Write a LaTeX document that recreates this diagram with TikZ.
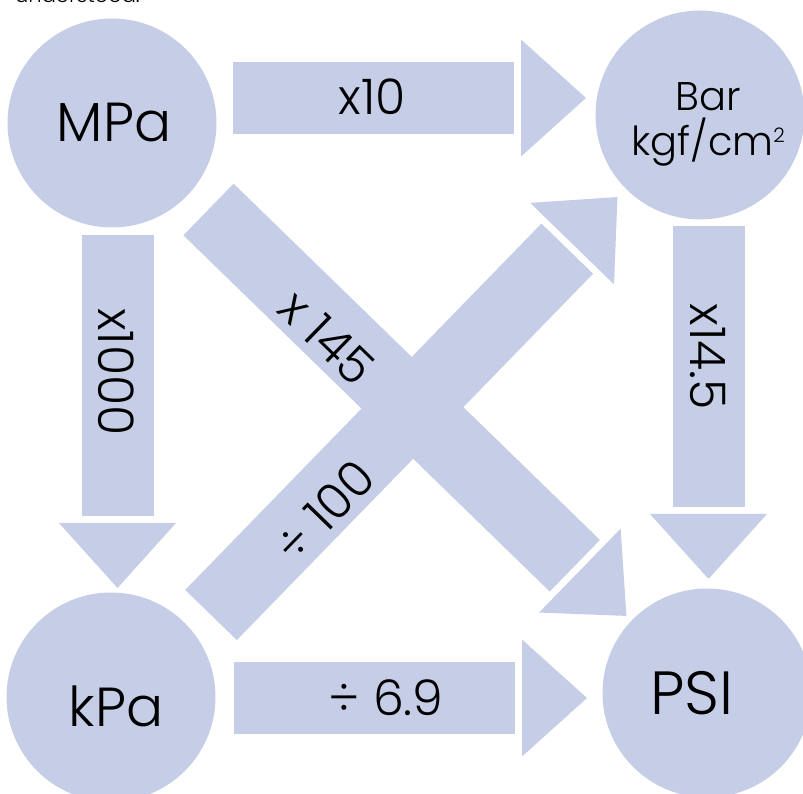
\documentclass[tikz,border=0pt]{standalone}
\usepackage{fontspec}
\setmainfont{Poppins Light}
\usetikzlibrary{calc}
\definecolor{paleblue}{RGB}{198,206,231}

\begin{document}
\begin{tikzpicture}[x=1pt,y=1pt,
    unit/.style={circle,fill=paleblue,minimum size=209pt,inner sep=0pt},
    big/.style={font=\fontsize{55}{60}\selectfont},
    factor/.style={font=\fontsize{49}{54}\selectfont,inner sep=0pt}]
  \useasboundingbox (0,0) rectangle (803,794);
  % block arrow: start, angle, shaft length, name, label position, label angle, label
  \def\blockarrow#1#2#3#4#5#6#7{%
    \begin{scope}[shift={(#1)},rotate=#2]
      \fill[paleblue] (0,-36) rectangle (#3,36);
      \fill[paleblue] (#3+7,-58.5) -- (#3+72,0) -- (#3+7,58.5) -- cycle;
      \node[factor,rotate=#6] (#4) at (#5) {#7};
    \end{scope}}
  \node[anchor=base west,inner sep=0pt,font=\fontsize{21}{24}\selectfont] (note) at (15,791) {understood.};
  % the four units
  \node[unit,label={[big,xshift=2]center:MPa}] (mpa) at (112,671) {};
  \node[unit,label={[font=\fontsize{40}{45}\selectfont,align=center,xshift=8,yshift=-9]center:{Bar\\kgf/cm{\fontsize{20}{20}\selectfont\raisebox{13pt}{2}}}}] (bar) at (700,679) {};
  \node[unit,label={[big,xshift=5,yshift=-9]center:kPa}] (kpa) at (111,97) {};
  \node[unit,label={[font=\fontsize{61}{64}\selectfont,xshift=-15]center:PSI}] (psi) at (707,101) {};
  % conversions
  \blockarrow{$(mpa)+(121,25)$}{0}{281}{mb}{139,1}{0}{x10}
  \blockarrow{$(kpa)+(123,-1)$}{0}{281}{kp}{152,0}{0}{÷ 6.9}
  \blockarrow{$(mpa)+(5.5,-112)$}{-90}{281}{mk}{137,-1}{-90}{x1000}
  \blockarrow{$(bar)+(8.5,-111)$}{-90}{281}{bp}{131,-1}{-90}{x14.5}
  \blockarrow{$(mpa)+(96.5,-86.5)$}{-44.2}{511}{mp}{174,-9}{-44.2}{x 145}
  \blockarrow{$(kpa)+(100,82)$}{45.8}{511}{kb}{153,-9}{45.8}{÷ 100}
\end{tikzpicture}
\end{document}
